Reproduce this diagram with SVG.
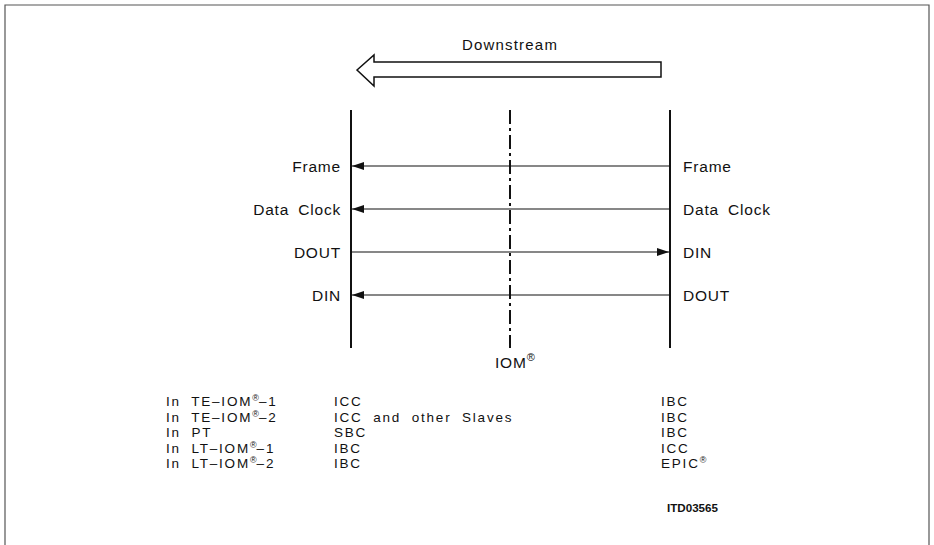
<svg xmlns="http://www.w3.org/2000/svg" width="934" height="545" viewBox="0 0 934 545">
<style>
text{font-family:"Liberation Sans","DejaVu Sans",sans-serif;fill:#111}
.lbl{font-size:15.5px;letter-spacing:0.8px;word-spacing:4px}
.tbl{font-size:13.5px;letter-spacing:1.8px;word-spacing:5px}
.sup{font-size:11px;letter-spacing:0}
.tsup{font-size:9px;letter-spacing:0}
.bus{stroke:#111;stroke-width:2;fill:none}
.sig{stroke:#111;stroke-width:1.2;fill:none}
</style>
<defs>
<marker id="ah" viewBox="0 0 12 8" refX="12" refY="4" markerWidth="12" markerHeight="8" markerUnits="userSpaceOnUse" orient="auto">
<path d="M0,0 L12,4 L0,8 Z" fill="#111"/>
</marker>
</defs>
<path d="M5,545 V5 H929 V545" fill="none" stroke="#555" stroke-width="1.2"/>
<g id="downstream">
<text x="510" y="50" text-anchor="middle" style="font-size:15px;letter-spacing:1.2px">Downstream</text>
<path d="M357,70 L374,55 L374,62 L661,62 L661,77 L374,77 L374,86 Z" fill="#fff" stroke="#111" stroke-width="1.5"/>
</g>
<g id="left-device">
<line class="bus" x1="351" y1="110" x2="351" y2="348"/>
<text class="lbl" x="341" y="172" text-anchor="end">Frame</text>
<text class="lbl" x="341" y="215" text-anchor="end">Data Clock</text>
<text class="lbl" x="341" y="258" text-anchor="end">DOUT</text>
<text class="lbl" x="341" y="301" text-anchor="end">DIN</text>
</g>
<g id="iom-bus">
<line x1="510" y1="110" x2="510" y2="348" stroke="#111" stroke-width="2" stroke-dasharray="14 4 3 4"/>
<text class="lbl" x="495" y="368">IOM<tspan class="sup" dy="-7">®</tspan></text>
</g>
<g id="right-device">
<line class="bus" x1="670" y1="110" x2="670" y2="348"/>
<text class="lbl" x="683" y="172">Frame</text>
<text class="lbl" x="683" y="215">Data Clock</text>
<text class="lbl" x="683" y="258">DIN</text>
<text class="lbl" x="683" y="301">DOUT</text>
</g>
<g id="connectors">
<line class="sig" x1="670" y1="166" x2="352" y2="166" marker-end="url(#ah)"/>
<line class="sig" x1="670" y1="209" x2="352" y2="209" marker-end="url(#ah)"/>
<line class="sig" x1="351" y1="252" x2="669" y2="252" marker-end="url(#ah)"/>
<line class="sig" x1="670" y1="295" x2="352" y2="295" marker-end="url(#ah)"/>
</g>
<g id="table">
<text class="tbl" x="166" y="406">In TE–IOM<tspan class="tsup" dy="-5">®</tspan><tspan dy="5">–1</tspan></text>
<text class="tbl" x="166" y="421.5">In TE–IOM<tspan class="tsup" dy="-5">®</tspan><tspan dy="5">–2</tspan></text>
<text class="tbl" x="166" y="437">In PT</text>
<text class="tbl" x="166" y="452.5">In LT–IOM<tspan class="tsup" dy="-5">®</tspan><tspan dy="5">–1</tspan></text>
<text class="tbl" x="166" y="468">In LT–IOM<tspan class="tsup" dy="-5">®</tspan><tspan dy="5">–2</tspan></text>
<text class="tbl" x="334" y="406">ICC</text>
<text class="tbl" x="334" y="421.5">ICC and other Slaves</text>
<text class="tbl" x="334" y="437">SBC</text>
<text class="tbl" x="334" y="452.5">IBC</text>
<text class="tbl" x="334" y="468">IBC</text>
<text class="tbl" x="661" y="406">IBC</text>
<text class="tbl" x="661" y="421.5">IBC</text>
<text class="tbl" x="661" y="437">IBC</text>
<text class="tbl" x="661" y="452.5">ICC</text>
<text class="tbl" x="661" y="468">EPIC<tspan class="tsup" dy="-5">®</tspan></text>
<text x="667" y="512" textLength="51" lengthAdjust="spacingAndGlyphs" style="font-size:11px;font-weight:bold">ITD03565</text>
</g>
</svg>
